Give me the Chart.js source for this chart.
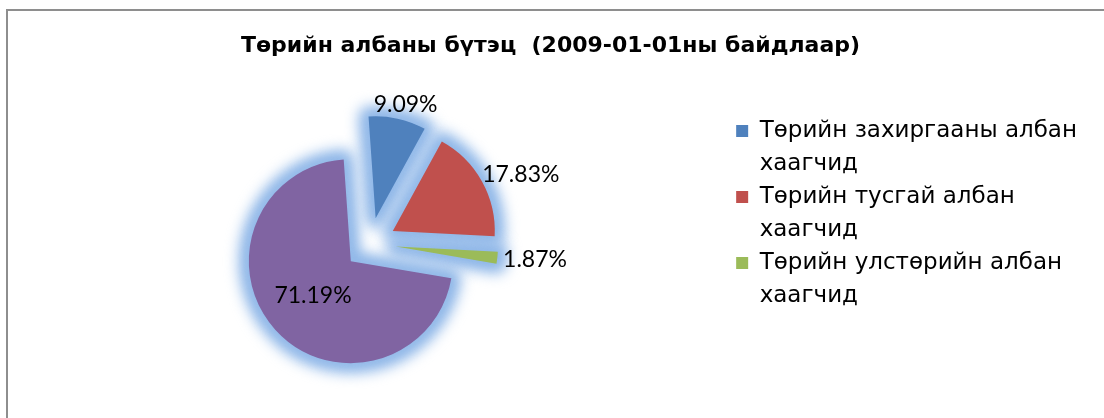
<!DOCTYPE html>
<html>
<head>
<meta charset="utf-8">
<script src="https://cdn.jsdelivr.net/npm/chart.js@4.4.1/dist/chart.umd.min.js"></script>
<style>
    html, body { margin: 0; padding: 0; background: #fff; overflow: hidden; }
    #frame {
        position: absolute; left: 6px; top: 9px; width: 1200px; height: 500px;
        border-left: 2px solid #8e8e8e; border-top: 2px solid #8e8e8e;
    }
    #wrap { position: absolute; left: 0; top: 0; width: 1104px; height: 418px; }
</style>
</head>
<body>
<div id="frame"></div>
<div id="wrap"><canvas id="pieChart" width="1104" height="418"></canvas></div>
<script>
const chartTitle = 'Төрийн албаны бүтэц  (2009-01-01ны байдлаар)';

// legend entries as they wrap in the picture (the 4th, purple slice has no visible entry)
const legendLines = [
    ['Төрийн захиргааны албан', 'хаагчид'],
    ['Төрийн тусгай албан', 'хаагчид'],
    ['Төрийн улстөрийн албан', 'хаагчид']
];
const categories = legendLines.map(lines => lines.join(' '));
const shares = [9.09, 17.83, 1.87, 71.19];
const sliceColors = ['#4F81BD', '#C0504D', '#9BBB59', '#8064A2'];

const glowColor = '#8FB7E8';
const explodeDistance = 26;
const labelFont = '23px Lato, "Open Sans", sans-serif';

Chart.defaults.font.family = '"DejaVu Sans", sans-serif';
Chart.defaults.color = '#000';

// pull every slice out from the centre, like an exploded Excel pie
const explodePlugin = {
    id: 'explode',
    afterDatasetUpdate(chart, args) {
        args.meta.data.forEach(arc => {
            let mid = (arc.startAngle + arc.endAngle) / 2;
            arc.x += Math.cos(mid) * explodeDistance;
            arc.y += Math.sin(mid) * explodeDistance;
        });
    }
};

// soft blue glow behind the slices
const glowPlugin = {
    id: 'glow',
    beforeDatasetsDraw(chart) {
        const ctx = chart.ctx;
        chart.getDatasetMeta(0).data.forEach(arc => {
            let saved = arc.options;
            arc.options = Object.assign({}, saved, {
                backgroundColor: glowColor,
                borderColor: glowColor,
                borderWidth: 20,
                borderAlign: 'center',
                borderJoinStyle: 'round'
            });
            ctx.save();
            ctx.filter = 'blur(7px)';
            arc.draw(ctx);
            ctx.restore();
            arc.options = saved;
        });
    }
};

// percentage labels: inside for the big slice, outside for the others
const sliceLabelPlugin = {
    id: 'sliceLabels',
    afterDatasetsDraw(chart) {
        const ctx = chart.ctx;
        ctx.save();
        ctx.font = labelFont;
        ctx.fillStyle = '#000';
        ctx.textAlign = 'center';
        ctx.textBaseline = 'middle';
        chart.getDatasetMeta(0).data.forEach((arc, i) => {
            let text = shares[i].toFixed(2) + '%';
            let mid = (arc.startAngle + arc.endAngle) / 2;
            let dx = Math.cos(mid), dy = Math.sin(mid);
            let x, y;
            if (arc.circumference > Math.PI) {
                x = arc.x + dx * arc.outerRadius * 0.5;
                y = arc.y + dy * arc.outerRadius * 0.5;
            } else {
                let halfW = ctx.measureText(text).width / 2;
                let r = arc.outerRadius + 6;
                x = arc.x + dx * r + dx * halfW;
                y = arc.y + dy * r + dy * 8;
            }
            ctx.fillText(text, x, y);
        });
        ctx.restore();
    }
};

const ctx = document.getElementById('pieChart').getContext('2d');
window.chart = new Chart(ctx, {
    type: 'pie',
    data: {
        labels: categories,
        datasets: [{
            data: shares,
            backgroundColor: sliceColors,
            borderWidth: 0,
            radius: 102
        }]
    },
    options: {
        responsive: false,
        animation: false,
        events: [],
        rotation: -4,
        layout: { padding: { left: 14, right: 17, top: 23, bottom: 0 } },
        plugins: {
            title: {
                display: true,
                text: chartTitle,
                color: '#000',
                font: { size: 22, weight: 'bold' },
                padding: { top: 10, bottom: 10 }
            },
            legend: {
                position: 'right',
                align: 'start',
                fullSize: false,
                title: { display: true, text: '', font: { size: 10 }, padding: { top: 28, bottom: 0 } },
                labels: {
                    boxWidth: 12,
                    boxHeight: 12,
                    padding: 10,
                    color: '#000',
                    font: { size: 23 },
                    generateLabels() {
                        let items = [];
                        legendLines.forEach((lines, i) => {
                            lines.forEach((line, j) => {
                                items.push({
                                    text: line,
                                    fillStyle: j === 0 ? sliceColors[i] : 'rgba(0,0,0,0)',
                                    strokeStyle: 'rgba(0,0,0,0)',
                                    lineWidth: 0,
                                    hidden: false,
                                    index: i
                                });
                            });
                        });
                        return items;
                    }
                }
            },
            tooltip: { enabled: false }
        }
    },
    plugins: [explodePlugin, glowPlugin, sliceLabelPlugin]
});
</script>
</body>
</html>
